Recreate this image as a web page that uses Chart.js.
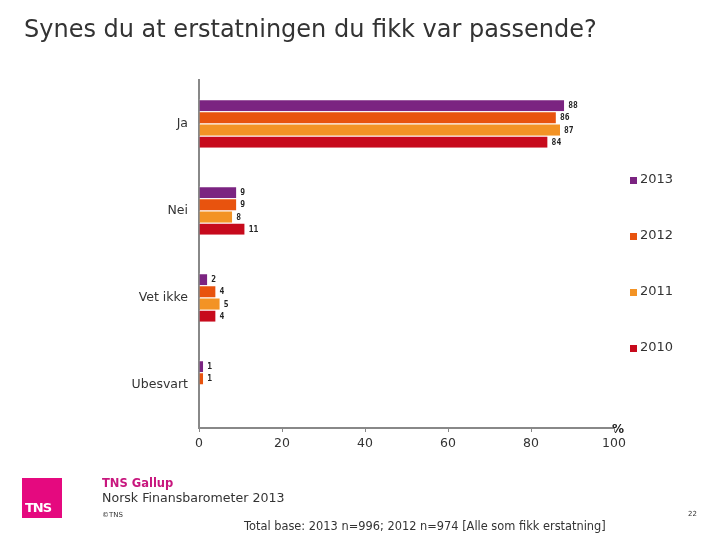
<!DOCTYPE html>
<html>
<head>
<meta charset="utf-8">
<script src="https://cdn.jsdelivr.net/npm/chart.js@4/dist/chart.umd.min.js"></script>
<style>
  body { margin: 0; background: #fff; }
  #wrap { position: relative; width: 720px; height: 540px; font-family: "DejaVu Sans", Verdana, sans-serif; color: #333; }
  #myChart { position: absolute; left: 0; top: 0; }
  .t { position: absolute; white-space: nowrap; }
</style>
</head>
<body>
<div id="wrap">
  <canvas id="myChart" width="720" height="540"></canvas>
  <div class="t" style="left:24px; top:15px; font-size:24px; color:#333;">Synes du at erstatningen du fikk var passende?</div>
  <div class="t" style="left:22px; top:478px; width:40px; height:40px; background:#E5097F;"></div>
  <div class="t" style="left:25px; top:500px; font-size:13px; font-weight:bold; color:#fff; letter-spacing:-1px;">TNS</div>
  <div class="t" style="left:102px; top:476px; font-size:11.5px; font-weight:bold; color:#C8177E;">TNS Gallup</div>
  <div class="t" style="left:102px; top:490px; font-size:12.6px; color:#333;">Norsk Finansbarometer 2013</div>
  <div class="t" style="left:102px; top:511px; font-size:7px; color:#333;">©TNS</div>
  <div class="t" style="left:688px; top:510px; font-size:7px; color:#333;">22</div>
  <div class="t" style="left:244px; top:519px; font-size:11.4px; color:#333;">Total base: 2013 n=996; 2012 n=974 [Alle som fikk erstatning]</div>
</div>
<script>
var kategorier = ['Ja', 'Nei', 'Vet ikke', 'Ubesvart'];
var aar = ['2013', '2012', '2011', '2010'];
var v2013 = [88, 9, 2, 1];
var v2012 = [86, 9, 4, 1];
var v2011 = [87, 8, 5, null];
var v2010 = [84, 11, 4, null];
var farger = ['#7B2481', '#E8530E', '#F39325', '#C70A1C'];
var xTicks = [0, 20, 40, 60, 80, 100];

var verdier = [v2013, v2012, v2011, v2010];
var datasets = aar.map(function (a, i) {
  return {
    label: a,
    data: verdier[i],
    backgroundColor: farger[i],
    borderColor: '#fff',
    borderWidth: { top: 1, bottom: 0, left: 0, right: 0 },
    borderSkipped: false,
    barPercentage: 1,
    categoryPercentage: 0.56
  };
});

// tall ved enden av stolpene
var verdiEtiketter = {
  id: 'verdiEtiketter',
  afterDatasetsDraw: function (chart) {
    var c = chart.ctx;
    c.save();
    c.font = 'bold 8px "DejaVu Sans Mono", monospace';
    c.fillStyle = '#222';
    c.textBaseline = 'middle';
    chart.data.datasets.forEach(function (ds, i) {
      chart.getDatasetMeta(i).data.forEach(function (bar, j) {
        if (ds.data[j] == null) return;
        c.fillText(ds.data[j], bar.x + 4, bar.y + 1);
      });
    });
    c.restore();
  }
};

// egen forklaring til høyre
var forklaring = {
  id: 'forklaring',
  afterDraw: function (chart) {
    var c = chart.ctx;
    c.save();
    c.font = '13px "DejaVu Sans", sans-serif';
    c.textBaseline = 'middle';
    aar.forEach(function (a, i) {
      var y = 180 + i * 56;
      c.fillStyle = farger[i];
      c.fillRect(630, y - 3, 7, 7);
      c.fillStyle = '#333';
      c.fillText(a, 640, y);
    });
    c.font = 'bold 12px "DejaVu Sans", sans-serif';
    c.fillStyle = '#222';
    c.fillText('%', 612, 430);
    c.restore();
  }
};

var ctx = document.getElementById('myChart');
var myChart = new Chart(ctx, {
  type: 'bar',
  data: { labels: kategorier, datasets: datasets },
  plugins: [verdiEtiketter, forklaring],
  options: {
    indexAxis: 'y',
    responsive: false,
    animation: false,
    layout: { padding: { left: 0, right: 106, top: 80, bottom: 82 } },
    plugins: { legend: { display: false }, tooltip: { enabled: false } },
    scales: {
      x: {
        min: 0, max: 100,
        afterBuildTicks: function (s) { s.ticks = xTicks.map(function (v) { return { value: v }; }); },
        afterFit: function (s) { s.height = 30; },
        grid: { display: true, drawOnChartArea: false, drawTicks: true, tickLength: 4, color: '#888' },
        border: { color: '#888', width: 2 },
        ticks: { color: '#333', font: { family: 'DejaVu Sans', size: 12.5 }, padding: 4, maxRotation: 0 }
      },
      y: {
        afterFit: function (s) { s.width = 199; },
        grid: { display: false },
        border: { color: '#888', width: 2 },
        ticks: { color: '#333', font: { family: 'DejaVu Sans', size: 12.5 }, padding: 3 }
      }
    }
  }
});
</script>
</body>
</html>
